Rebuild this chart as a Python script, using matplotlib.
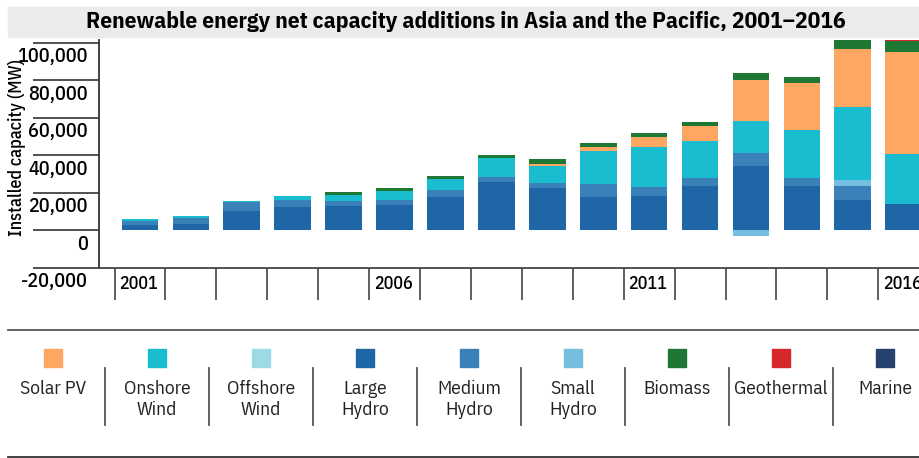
import numpy as np
import matplotlib.pyplot as plt
from matplotlib import font_manager
from matplotlib.patches import Rectangle
from matplotlib.lines import Line2D
from matplotlib.transforms import ScaledTranslation

years = list(range(2001, 2017))
year_labels = {2001: "2001", 2006: "2006", 2011: "2011", 2016: "2016"}

# net additions, MW
large_hydro = [3000, 3500, 10600, 12300, 13000, 13700, 18100, 25700, 22400, 18000, 18300, 23800, 34200, 23600, 16200, 14100]
medium_hydro = [2300, 3200, 4400, 3900, 2800, 2600, 3500, 3000, 2800, 6800, 4600, 4400, 7000, 4100, 7400, 0]
small_hydro = [0, 0, 0, 0, 0, 0, 0, 0, 0, 0, 0, 0, -3200, 0, 3200, 0]
offshore_wind = [0, 0, 0, 0, 0, 0, 0, 0, 0, 0, 0, 0, 0, 0, 0, 0]
onshore_wind = [600, 1000, 900, 2100, 3300, 4800, 5800, 9700, 9200, 17800, 21500, 19700, 17300, 25600, 39100, 26800]
solar_pv = [0, 0, 0, 0, 0, 0, 0, 0, 900, 1800, 5600, 7600, 21700, 25200, 31000, 54300]
biomass = [0, 0, 0, 200, 1500, 1700, 1700, 1700, 2800, 2000, 1800, 2500, 3500, 3500, 4400, 6000]
geothermal = [0, 0, 0, 0, 0, 0, 0, 0, 0, 0, 0, 0, 0, 0, 0, 1500]
marine = [0, 0, 0, 0, 0, 0, 0, 0, 0, 0, 0, 0, 0, 0, 0, 0]

# stacking order (bottom to top)
stack = [
    (large_hydro, "#1f66a6"),
    (medium_hydro, "#3a80b9"),
    (small_hydro, "#74bfdf"),
    (offshore_wind, "#9edae5"),
    (onshore_wind, "#19bdcf"),
    (solar_pv, "#fda762"),
    (biomass, "#1e7733"),
    (geothermal, "#d6272b"),
    (marine, "#26426c"),
]

legend_items = [
    ("Solar PV", "#fda762"),
    ("Onshore\nWind", "#19bdcf"),
    ("Offshore\nWind", "#9edae5"),
    ("Large\nHydro", "#1f66a6"),
    ("Medium\nHydro", "#3a80b9"),
    ("Small\nHydro", "#74bfdf"),
    ("Biomass", "#1e7733"),
    ("Geothermal", "#d6272b"),
    ("Marine", "#26426c"),
]

names = {f.name for f in font_manager.fontManager.ttflist}
cond = "IBM Plex Sans Condensed" if "IBM Plex Sans Condensed" in names else "DejaVu Sans"
plt.rcParams["font.family"] = [cond, "DejaVu Sans"]

W, H = 920, 458
fig = plt.figure(figsize=(W / 100, H / 100), dpi=100)
ax = fig.add_axes([99 / W, 1 - 268 / H, 821 / W, 228 / H])

x = np.arange(len(years))
pos = np.zeros(len(years))
neg = np.zeros(len(years))
for vals, col in stack:
    v = np.array(vals, dtype=float)
    bottom = np.where(v >= 0, pos, neg)
    ax.bar(x, v, 0.72, bottom=bottom, color=col, linewidth=0)
    pos += np.clip(v, 0, None)
    neg += np.clip(v, None, 0)

ax.set_xlim(-0.805, 15.32)
ax.set_ylim(-20000, 101500)

yt = list(range(-20000, 100001, 20000))
ax.set_yticks(yt)
ax.set_yticklabels([f"{v:,}" for v in yt], fontsize=14.5, fontweight="medium")
ax.tick_params(axis="y", length=0, pad=8)
for lab in ax.get_yticklabels():
    lab.set_transform(lab.get_transform() + ScaledTranslation(0, -12 / 100, fig.dpi_scale_trans))
ax.set_xticks([])

for s in ["top", "right"]:
    ax.spines[s].set_visible(False)
ax.spines["left"].set_color("#333333")
ax.spines["left"].set_linewidth(1.3)
ax.spines["bottom"].set_color("#444444")
ax.spines["bottom"].set_linewidth(1.3)

# tick lines left of the axis
ax.hlines(yt, -66 / 821, 0, transform=ax.get_yaxis_transform(), clip_on=False,
          color="#333333", lw=1.2)

# year boxes under the axis
ax.vlines(np.arange(-0.5, 16), -32 / 228, 0, transform=ax.get_xaxis_transform(),
          clip_on=False, color="#444444", lw=1.2)
for i, yr in enumerate(years):
    if yr in year_labels:
        ax.text(i - 0.03, -16 / 228, year_labels[yr], transform=ax.get_xaxis_transform(),
                ha="center", va="center", fontsize=13, fontweight="medium")

fig.text(17 / W, 1 - 147 / H, "Installed capacity (MW)", rotation=90,
         ha="center", va="center", fontsize=13, fontweight="medium")

# title band
fig.patches.append(Rectangle((8 / W, 1 - 37 / H), 912 / W, 30 / H,
                             transform=fig.transFigure, color="#ebebeb", zorder=0))
fig.text(466 / W, 1 - 22 / H,
         "Renewable energy net capacity additions in Asia and the Pacific, 2001\u20132016",
         ha="center", va="center", fontsize=16.8, fontweight="bold")

# legend
fig.add_artist(Line2D([8 / W, 1], [1 - 330 / H] * 2, color="#555555", lw=1.3))
fig.add_artist(Line2D([8 / W, 1], [1 - 456.5 / H] * 2, color="#333333", lw=1.3))
for k, (lab, col) in enumerate(legend_items):
    cx = 53 + 104 * k
    fig.patches.append(Rectangle(((cx - 9) / W, 1 - 367 / H), 18 / W, 18 / H,
                                 transform=fig.transFigure, color=col))
    fig.text(cx / W, 1 - 380 / H, lab, ha="center", va="top", fontsize=14,
             color="#222222", linespacing=1.2)
    if k > 0:
        sx = cx - 52
        fig.add_artist(Line2D([sx / W] * 2, [1 - 368 / H, 1 - 425 / H],
                              color="#555555", lw=1.3))

fig.savefig("out.png", dpi=100)
